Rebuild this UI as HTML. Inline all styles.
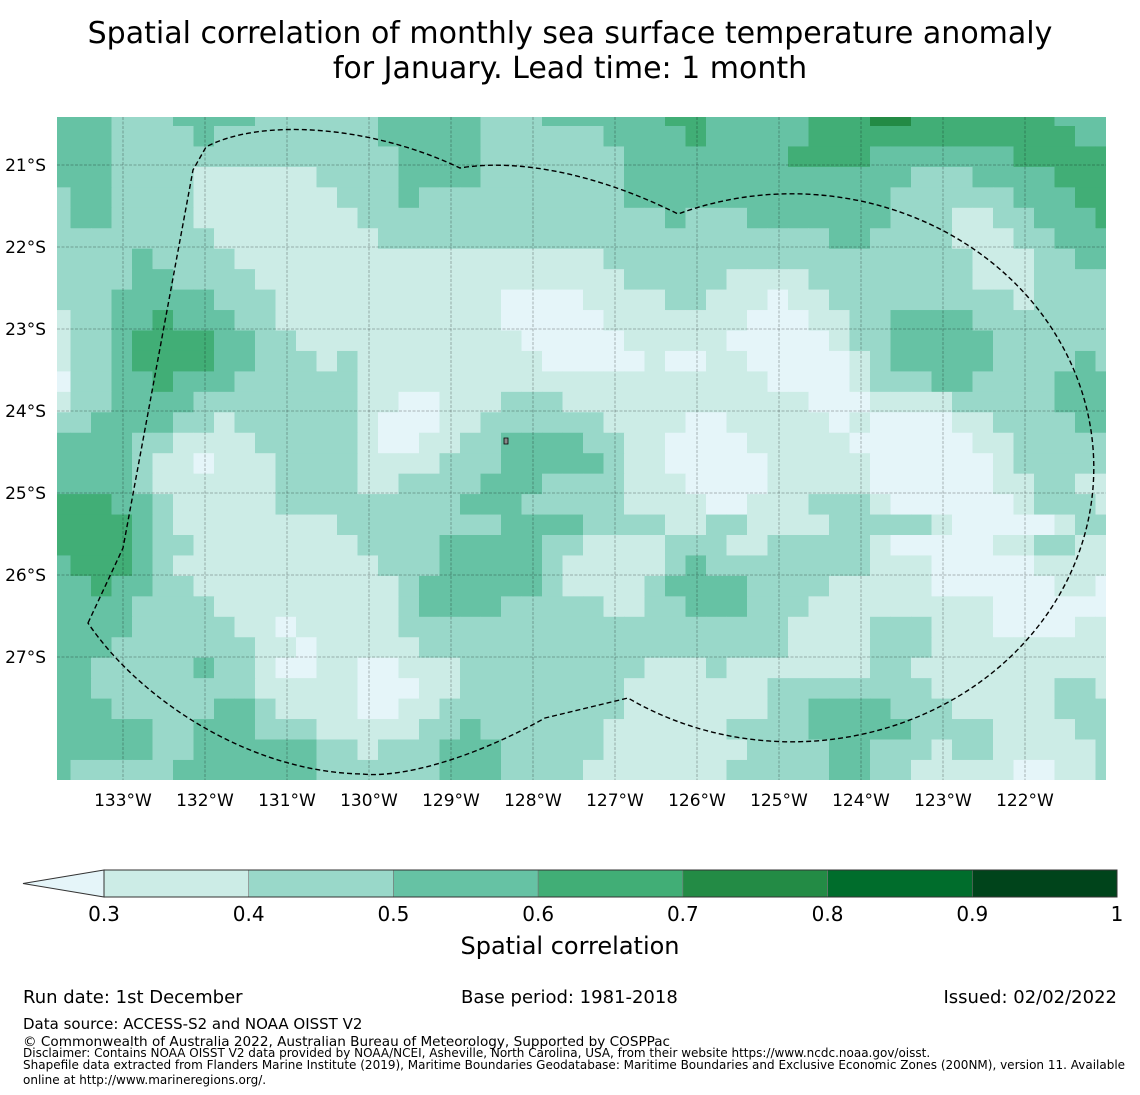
<!DOCTYPE html>
<html><head><meta charset="utf-8"><style>
html,body{margin:0;padding:0;background:#fff;}
svg{display:block;font-family:"DejaVu Sans","Liberation Sans",sans-serif;}
</style></head><body>
<svg id="chart" width="1140" height="1095" viewBox="0 0 1140 1095" xmlns="http://www.w3.org/2000/svg">
<defs><clipPath id="mapclip"><rect x="57" y="117" width="1049" height="663"/></clipPath></defs>
<text x="570" y="43" text-anchor="middle" font-size="30">Spatial correlation of monthly sea surface temperature anomaly</text>
<text x="570" y="78" text-anchor="middle" font-size="30">for January. Lead time: 1 month</text>
<g id="cells" clip-path="url(#mapclip)"></g>
<g id="grid"></g>
<path fill="none" stroke="#000" stroke-width="1.4" stroke-dasharray="5,3"
 d="M88,623 L123,548 L193,170 L206,147 C260,118 370,125 460,168 C520,158 600,175 678,214 A302,274 0 1 1 628,698 L545,718 C470,760 400,778 362,774 C250,772 140,700 88,623 Z"/>
<path d="M504,438 h4 v6 h-4 z" fill="#888" stroke="#000" stroke-width="0.8"/>
<g id="axes"></g>
<g id="cbar"></g>
<text x="570" y="954" text-anchor="middle" font-size="24">Spatial correlation</text>
<text x="23" y="1003" font-size="18">Run date: 1st December</text>
<text x="461" y="1003" font-size="18">Base period: 1981-2018</text>
<text x="1117" y="1003" text-anchor="end" font-size="18">Issued: 02/02/2022</text>
<text x="23" y="1029" font-size="15">Data source: ACCESS-S2 and NOAA OISST V2</text>
<text x="23" y="1046" font-size="13.6">© Commonwealth of Australia 2022, Australian Bureau of Meteorology, Supported by COSPPac</text>
<text x="23" y="1057" font-size="12">Disclaimer: Contains NOAA OISST V2 data provided by NOAA/NCEI, Asheville, North Carolina, USA, from their website https://www.ncdc.noaa.gov/oisst.</text>
<text x="23" y="1069" font-size="12">Shapefile data extracted from Flanders Marine Institute (2019), Maritime Boundaries Geodatabase: Maritime Boundaries and Exclusive Economic Zones (200NM), version 11. Available</text>
<text x="23" y="1084" font-size="12">online at http://www.marineregions.org/.</text>
</svg>
<script>
// correlation class per cell (0: <0.3, 1: 0.3-0.4, ... 7: 0.9-1.0), rows north->south, cols west->east
const gridRows = [
"3332223333222222333332223333334433333444554444444333",
"3332222322222222333332222223333433333444444444444433",
"3332222222222222233332222222333333334444333333344444",
"3332222111111222233332222222333333333333332223333444",
"2332222111111122232222222222333333333333322222233344",
"2332222111111112222222222222223222333333322211223334",
"2222222211111111222222222222222222222233222211122333",
"2222322221111111111111111112222222222222222221112233",
"2222332222111111111111111111222221111222222221112222",
"2223333322211111111111000011112211101122222222212222",
"1223343332211111111111000001111111000112233332222222",
"1223444433221111111111100000111110000012233333222222",
"1223444433222121111111110000010011000001233333222232",
"0223343332222221111111111111111111100001222332222333",
"1223333222222221100111222111111111111000111122222333",
"2233332212222221000112222221111001111101000011222233",
"3333221111222221001122333322110000111110000001122222",
"3333211011122221111222333332110000011111000000122222",
"3333211111122221122223332222111000011111000000112211",
"4443321111122222222233322222111100111222100000012221",
"4444321111111122222222333322221122111122222100000122",
"4444322111111112222333332211112221122222100000112211",
"3444321111111111222333332111112322222222111000001111",
"3343322111111111123333332111123333222211111000000110",
"3333222211111111123333222221122333222111111111000000",
"3333222221101111122222222222222222221111222111000011",
"3332222222110111112222222222222222221111222111111111",
"3322222322100110011122222222211121111111221111111111",
"3322222222111110001122222222111111122222222111111221",
"3332222233211110011222222222111111122333322211111222",
"3333322333222111112232222221111112222333332222111122",
"3333322333333221222333222221111111222233222122111112",
"3222223333333222222333222211111112222233221111100112"
];
const classBreaks = [0.3,0.4,0.5,0.6,0.7,0.8,0.9,1.0];
const classColors = ["#e5f5f9","#ccece6","#99d8c9","#66c2a4","#41ae76","#238b45","#006d2c","#00441b"];
const lonTicks = [-133,-132,-131,-130,-129,-128,-127,-126,-125,-124,-123,-122];
const latTicks = [-21,-22,-23,-24,-25,-26,-27];
const cbarTickLabels = ["0.3","0.4","0.5","0.6","0.7","0.8","0.9","1"];

const NS='http://www.w3.org/2000/svg';
function xLon(lon){return 123+82*(lon+133);}
function yLat(lat){return 165-82*(lat+21);}
function colLeft(c){return 70.5+20.5*(c-1);}
function rowTop(r){return 126+20.45*(r-1);}
function mk(tag,attrs,parent){const e=document.createElementNS(NS,tag);for(const k in attrs)e.setAttribute(k,attrs[k]);parent.appendChild(e);return e;}

const cells=document.getElementById('cells');
gridRows.forEach((row,r)=>{
  for(let c=0;c<row.length;c++){
    const v=+row[c];
    const x=colLeft(c), y=rowTop(r);
    const rc=mk('rect',{x:x.toFixed(2),y:y.toFixed(2),width:21,height:21,fill:classColors[v]},cells);
    
    
  }
});

const grid=document.getElementById('grid');
lonTicks.forEach(l=>{
  const ln=mk('line',{x1:xLon(l),x2:xLon(l),y1:117,y2:780,stroke:'#000','stroke-opacity':0.35,'stroke-width':0.8,'stroke-dasharray':'3,1.5'},grid);
  
  
});
latTicks.forEach(l=>{
  const ln=mk('line',{x1:57,x2:1106,y1:yLat(l),y2:yLat(l),stroke:'#000','stroke-opacity':0.35,'stroke-width':0.8,'stroke-dasharray':'3,1.5'},grid);
  
  
});

const axes=document.getElementById('axes');
lonTicks.forEach(l=>{
  const t=mk('text',{x:xLon(l),y:806,'text-anchor':'middle','font-size':17},axes);
  t.textContent=Math.abs(l)+'°W';
  
  
});
latTicks.forEach(l=>{
  const t=mk('text',{x:46,y:yLat(l)+6,'text-anchor':'end','font-size':17},axes);
  t.textContent=Math.abs(l)+'°S';
  
  
});

const cb=document.getElementById('cbar');
const cbX0=104,cbX1=1117,cbY=870,cbH=27;
function xCb(v){return cbX0+(cbX1-cbX0)*(v-0.3)/0.7;}
const tri=mk('path',{d:`M${cbX0},${cbY} L23,${cbY+cbH/2} L${cbX0},${cbY+cbH} Z`,fill:classColors[0],stroke:'#333','stroke-width':1},cb);


for(let i=0;i<classBreaks.length-1;i++){
  const r=mk('rect',{x:xCb(classBreaks[i]),y:cbY,width:xCb(classBreaks[i+1])-xCb(classBreaks[i]),height:cbH,fill:classColors[i+1],stroke:'#777','stroke-width':0.6},cb);
  
  
}
const fr=mk('rect',{x:cbX0,y:cbY,width:cbX1-cbX0,height:cbH,fill:'none',stroke:'#333','stroke-width':1},cb);


classBreaks.forEach((v,i)=>{
  const t=mk('text',{x:xCb(v),y:921,'text-anchor':'middle','font-size':20},cb);
  t.textContent=cbarTickLabels[i];
  
  
});
</script>
</body></html>
